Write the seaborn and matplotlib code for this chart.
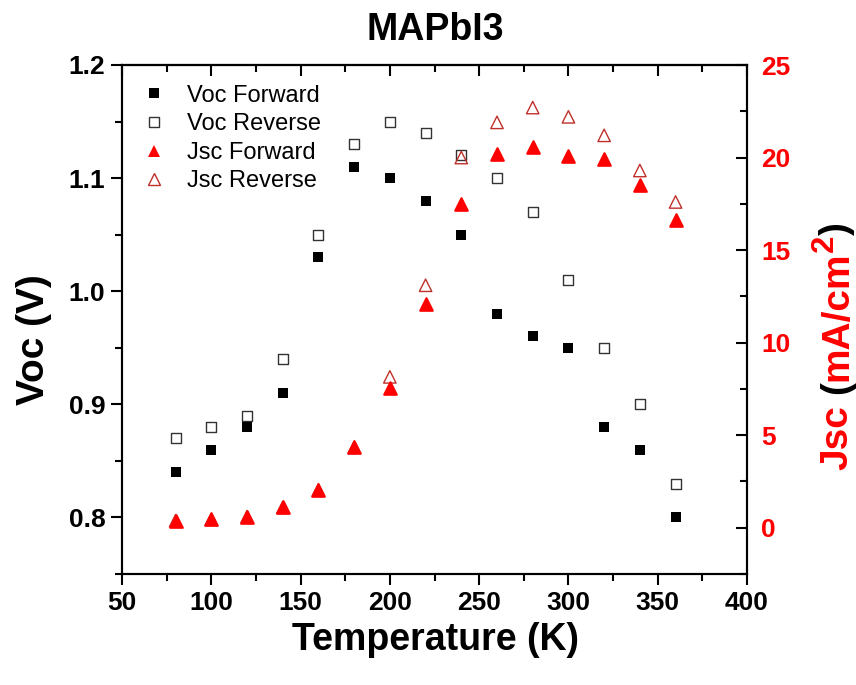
import numpy as np
import pandas as pd
import matplotlib
matplotlib.use("Agg")
import matplotlib.pyplot as plt
import seaborn as sns
from matplotlib.ticker import MultipleLocator, FormatStrFormatter
from matplotlib.lines import Line2D

# ---- data ----
temperature = [80, 100, 120, 140, 160, 180, 200, 220, 240, 260, 280, 300, 320, 340, 360]
voc_forward = [0.84, 0.86, 0.88, 0.91, 1.03, 1.11, 1.10, 1.08, 1.05, 0.98, 0.96, 0.95, 0.88, 0.86, 0.80]
voc_reverse = [0.87, 0.88, 0.89, 0.94, 1.05, 1.13, 1.15, 1.14, 1.12, 1.10, 1.07, 1.01, 0.95, 0.90, 0.83]
jsc_forward = [0.38, 0.45, 0.60, 1.10, 2.05, 4.35, 7.55, 12.1, 17.5, 20.2, 20.55, 20.1, 19.9, 18.5, 16.6]
jsc_reverse = [0.38, 0.45, 0.60, 1.10, 2.05, 4.35, 8.15, 13.1, 20.0, 21.9, 22.7, 22.2, 21.2, 19.3, 17.6]
series_labels = ["Voc Forward", "Voc Reverse", "Jsc Forward", "Jsc Reverse"]

RED = "#ff0000"
DARKRED = "#c0302a"

sns.set_style("ticks")
plt.rcParams["font.family"] = ["Liberation Sans", "DejaVu Sans"]
plt.rcParams["font.weight"] = "bold"
plt.rcParams["axes.linewidth"] = 1.5
for k in ("text.color", "axes.labelcolor", "xtick.color", "ytick.color", "axes.edgecolor"):
    plt.rcParams[k] = "black"

W_PX, H_PX = 856, 685
fig = plt.figure(figsize=(W_PX / 100, H_PX / 100), dpi=100)
ax = fig.add_axes([122 / W_PX, 1 - 574 / H_PX, (747 - 122) / W_PX, (574 - 65) / H_PX])
ax2 = ax.twinx()

SQ = 52
TRI = 80
sns.scatterplot(x=temperature, y=voc_reverse, ax=ax, marker="s", s=SQ,
                color="#333333", facecolor="none", edgecolor="#333333", linewidth=1.0, zorder=3)
sns.scatterplot(x=temperature, y=voc_forward, ax=ax, marker="s", s=SQ,
                color="black", edgecolor="black", linewidth=0, zorder=3)
sns.scatterplot(x=temperature, y=jsc_reverse, ax=ax2, marker="^", s=TRI,
                color=DARKRED, facecolor="none", edgecolor=DARKRED, linewidth=1.0, zorder=3)
sns.scatterplot(x=temperature, y=jsc_forward, ax=ax2, marker="^", s=TRI,
                color=RED, edgecolor=RED, linewidth=1.6, zorder=4)

# limits / ticks
ax.set_xlim(50, 400)
ax.set_ylim(0.75, 1.2)
ax2.set_ylim(-2.5, 25)
ax.xaxis.set_major_locator(MultipleLocator(50))
ax.xaxis.set_minor_locator(MultipleLocator(25))
ax.yaxis.set_major_locator(MultipleLocator(0.1))
ax.yaxis.set_minor_locator(MultipleLocator(0.05))
ax.yaxis.set_major_formatter(FormatStrFormatter("%.1f"))
ax2.yaxis.set_major_locator(MultipleLocator(5))
ax2.yaxis.set_minor_locator(MultipleLocator(2.5))

ax.tick_params(axis="both", which="major", direction="out", length=8, width=1.5,
               labelsize=19, pad=4, colors="black")
ax.tick_params(axis="both", which="minor", direction="out", length=5, width=1.5, colors="black")
ax2.tick_params(axis="y", which="major", direction="in", length=8, width=1.5,
                labelsize=19, color="black", labelcolor=RED, pad=10)
ax2.tick_params(axis="y", which="minor", direction="in", length=5, width=1.5, color="black")

secax = ax.secondary_xaxis("top")
secax.xaxis.set_major_locator(MultipleLocator(50))
secax.xaxis.set_minor_locator(MultipleLocator(25))
secax.tick_params(axis="x", which="major", direction="in", length=8, width=1.5,
                  labeltop=False, color="black")
secax.tick_params(axis="x", which="minor", direction="in", length=5, width=1.5, color="black")
for a in (ax, ax2, secax):
    for sp in a.spines.values():
        sp.set_linewidth(1.5)
        sp.set_color("black")

ax.set_xlabel("Temperature (K)", fontsize=27, fontweight="bold", color="black")
ax.xaxis.set_label_coords(0.5008, -0.094)
ax.set_ylabel("Voc (V)", fontsize=28, fontweight="bold", color="black")
ax.yaxis.set_label_coords(-0.112, 0.46)

fig.text(435 / W_PX, 1 - 30 / H_PX, "MAPbI3", ha="center", va="center",
         fontsize=27, fontweight="bold", color="black")

# legend
handles = [
    Line2D([], [], linestyle="none", marker="s", markersize=7.2, color="black", markeredgewidth=0),
    Line2D([], [], linestyle="none", marker="s", markersize=7.2, markerfacecolor="none",
           markeredgecolor="#333333", markeredgewidth=1.0),
    Line2D([], [], linestyle="none", marker="^", markersize=9.2, color=RED, markeredgewidth=0),
    Line2D([], [], linestyle="none", marker="^", markersize=9.2, markerfacecolor="none",
           markeredgecolor=DARKRED, markeredgewidth=1.0),
]
leg = ax2.legend(handles, series_labels, loc="upper left", bbox_to_anchor=(0.019, 0.979),
                 frameon=False, prop={"size": 17, "weight": "normal"}, handlelength=0.95,
                 handletextpad=0.92, labelspacing=0.28, borderaxespad=0, borderpad=0.38)
for t in leg.get_texts():
    t.set_color("black")

# right axis label with mixed colours
fig.canvas.draw()
r = fig.canvas.get_renderer()
fs = 28
fs_px = fs * 100 / 72
xb = 847
y = H_PX - 470
pieces = [("Jsc", RED, fs, 0, 0.278 * fs_px),
          ("(", "black", fs, 0, 0),
          ("mA/cm", RED, fs, 0, 0),
          ("2", RED, fs * 0.8, 14, 0),
          (")", "black", fs, 0, 0)]
for s, c, size, raise_px, gap in pieces:
    t = fig.text((xb - raise_px) / W_PX, y / H_PX, s, rotation=90, rotation_mode="anchor",
                 ha="left", va="baseline", color=c, fontsize=size, fontweight="bold")
    bb = t.get_window_extent(r)
    y = bb.y1 + gap

fig.savefig("out.png", dpi=100)
